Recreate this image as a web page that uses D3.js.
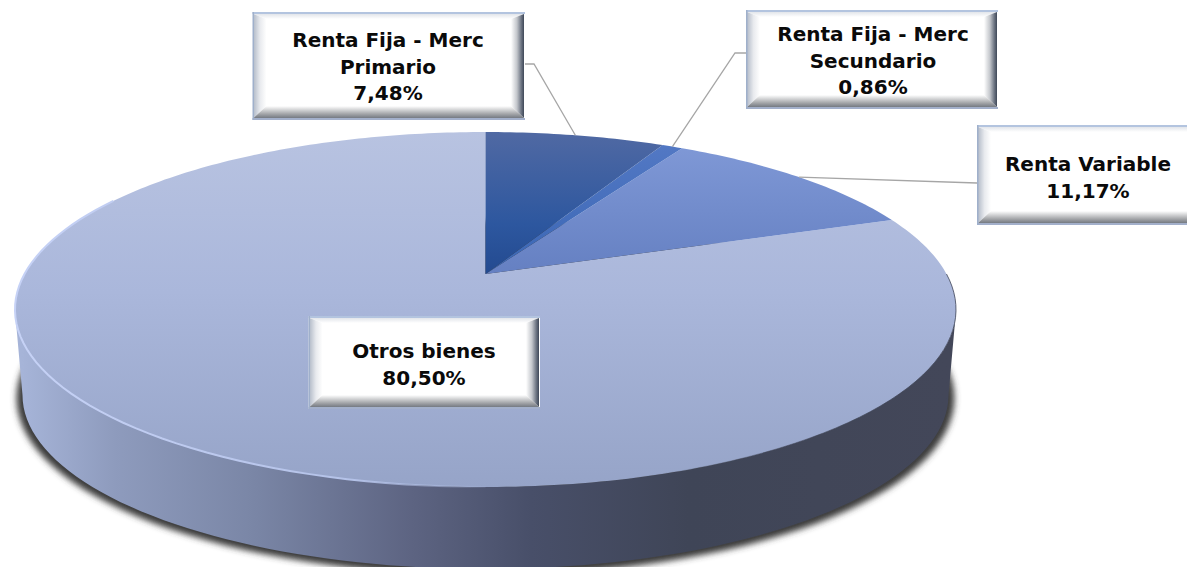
<!DOCTYPE html>
<html>
<head>
<meta charset="utf-8">
<script src="https://cdn.jsdelivr.net/npm/d3@7"></script>
<style>
  html, body { margin: 0; padding: 0; background: #fff; overflow: hidden; }
  svg { display: block; }
  .label { font-family: "DejaVu Sans", sans-serif; font-weight: 700; font-size: 20px; fill: #0a0a0a; text-anchor: middle; }
</style>
</head>
<body>
<div id="chart"></div>
<script>
// data
const categories = ["Renta Fija - Merc Primario", "Renta Fija - Merc Secundario", "Renta Variable", "Otros bienes"];
const values = [7.48, 0.86, 11.17, 80.50];
const labelLines = [
  ["Renta Fija - Merc", "Primario", "7,48%"],
  ["Renta Fija - Merc", "Secundario", "0,86%"],
  ["Renta Variable", "11,17%"],
  ["Otros bienes", "80,50%"]
];

const width = 1187, height = 567;

// label boxes: x, y, w, h  (third one runs off the right side)
const boxes = [
  {x: 252.5, y: 12, w: 272.5, h: 108, elbow: [534, 64], side: 525},
  {x: 746, y: 10, w: 252, h: 99, elbow: [735, 53], side: 746},
  {x: 977, y: 125, w: 225, h: 100, elbow: null, side: 977, sideY: 183},
  {x: 308.5, y: 316, w: 231.5, h: 93, elbow: null, side: null}
];

// tilted disc: unit circle seen in perspective
const cx = 485.5, apexY = 274;
const persp = 0.2, scaleX = 461, scaleY = -115.6;
function project(a) {
  const u = Math.sin(a), v = Math.cos(a), w = 1 + persp * v;
  return [cx + scaleX * u / w, (scaleY * v + apexY) / w];
}

const pie = d3.pie().sort(null).value(d => d)(values);
const line = d3.line();

function slicePoints(d) {
  const n = Math.max(4, Math.ceil((d.endAngle - d.startAngle) * 60));
  const pts = d3.range(n + 1).map(i => project(d.startAngle + (d.endAngle - d.startAngle) * i / n));
  return [[cx, apexY], ...pts];
}

const svg = d3.select("#chart").append("svg").attr("width", width).attr("height", height);
const defs = svg.append("defs");

function gradient(id, dir, stops, user) {
  const g = defs.append("linearGradient").attr("id", id)
    .attr("x1", dir[0]).attr("y1", dir[1]).attr("x2", dir[2]).attr("y2", dir[3]);
  if (user) g.attr("gradientUnits", "userSpaceOnUse");
  stops.forEach(s => g.append("stop").attr("offset", s[0]).attr("stop-color", s[1]).attr("stop-opacity", s[2] === undefined ? 1 : s[2]));
}

// slices share one vertical run so the colours line up with the disc
gradient("g0", [0, 132, 0, 274], [[0, "#5069a3"], [0.65, "#2d579f"], [1, "#234a90"]], true);
gradient("g1", [0, 146, 0, 274], [[0, "#5278c4"], [1, "#3a66b4"]], true);
gradient("g2", [0, 146, 0, 274], [[0, "#7f98d6"], [1, "#6580c2"]], true);
gradient("g3", [0, 132, 0, 487], [[0, "#b8c3e1"], [0.45, "#aab7db"], [1, "#96a4c8"]], true);
gradient("wall", [22, 0, 948, 0], [
  [0, "#a6b4d8"], [0.1, "#8e9bbd"], [0.25, "#7a86a6"], [0.42, "#5d6482"],
  [0.55, "#484f69"], [0.72, "#3f4557"], [1, "#434759"]
], true);
gradient("rimLight", [15, 0, 500, 0], [[0, "#c6d2f6"], [0.7, "#b4c2e8"], [1, "#b4c2e8", 0]], true);
gradient("rimDark", [620, 0, 956, 0], [[0, "#3d4356", 0], [0.5, "#3d4356", 0.5], [1, "#3d4356", 0.8]], true);

const blur = defs.append("filter").attr("id", "blur")
  .attr("x", "-5%").attr("y", "-5%").attr("width", "110%").attr("height", "110%");
blur.append("feGaussianBlur").attr("stdDeviation", 3.2);
const soft = defs.append("filter").attr("id", "soft");
soft.append("feGaussianBlur").attr("stdDeviation", 0.6);

// bevel fills for the boxes
gradient("bTop", [0, 0, 0, 1], [[0, "#e2e5ea"], [1, "#ffffff"]]);
gradient("bLeft", [0, 0, 1, 0], [[0, "#b4bcc9"], [0.5, "#e8eaee"], [1, "#ffffff"]]);
gradient("bRight", [1, 0, 0, 0], [[0, "#3f4858"], [0.2, "#6a7280"], [0.55, "#c4c7cc"], [1, "#ffffff"]]);
gradient("bBottom", [0, 1, 0, 0], [[0, "#757a82"], [0.35, "#a5a7aa"], [1, "#ffffff"]]);

// outline of the disc and of the lower rim
const circle = d3.range(0, 361, 2).map(a => project(a * Math.PI / 180));
const lowCy = 395, lowRx = 463, lowRy = 174;
const low = d3.range(0, 181, 2).map(a => {
  const t = a * Math.PI / 180;
  return [cx + lowRx * Math.cos(t), lowCy + lowRy * Math.sin(t)];
});

// shadow under the disc
svg.append("ellipse")
  .attr("cx", cx).attr("cy", lowCy + 3).attr("rx", lowRx + 6).attr("ry", lowRy + 3)
  .attr("fill", "#3a3a3a").attr("filter", "url(#blur)");

// wall: from the top disc's widest line down to the lower rim
const hull = circle.filter(p => p[1] >= 300).sort((a, b) => b[0] - a[0]);
svg.append("path")
  .attr("d", line([...hull, ...low.slice().reverse()]) + "Z")
  .attr("fill", "url(#wall)");

// pie slices, back to front
svg.selectAll("path.slice")
  .data(pie.slice().reverse())
  .enter().append("path")
  .attr("class", "slice")
  .attr("d", d => line(slicePoints(d)) + "Z")
  .attr("fill", d => "url(#g" + d.index + ")");

// rim highlights on the front edge
const frontLeft = d3.range(180, 300, 2).map(a => project(a * Math.PI / 180));
svg.append("path").attr("d", line(frontLeft)).attr("fill", "none")
  .attr("stroke", "url(#rimLight)").attr("stroke-width", 2).attr("filter", "url(#soft)");
const frontRight = d3.range(90, 181, 2).map(a => project(a * Math.PI / 180));
svg.append("path").attr("d", line(frontRight)).attr("fill", "none")
  .attr("stroke", "url(#rimDark)").attr("stroke-width", 1).attr("filter", "url(#soft)");

// leader lines start at the middle of each slice's outer arc
boxes.forEach((b, i) => {
  if (b.side === null) return;
  const mid = project((pie[i].startAngle + pie[i].endAngle) / 2);
  const pts = b.elbow ? [mid, b.elbow, [b.side, b.elbow[1]]] : [mid, [b.side, b.sideY]];
  svg.append("path").attr("d", line(pts)).attr("fill", "none")
    .attr("stroke", "#a6a6a6").attr("stroke-width", 1.3);
});

// label boxes
const bevel = 13;
const box = svg.selectAll("g.box").data(boxes).enter().append("g").attr("class", "box");
box.append("rect")
  .attr("x", d => d.x).attr("y", d => d.y).attr("width", d => d.w).attr("height", d => d.h)
  .attr("fill", "#fff");
function trap(d, side) {
  const x0 = d.x + 1, y0 = d.y + 2, x1 = d.x + d.w - 1, y1 = d.y + d.h - 2;
  const b = bevel;
  if (side === "top") return [[x0, y0], [x1, y0], [x1 - b, y0 + 5], [x0 + b, y0 + 5]];
  if (side === "bottom") return [[x0, y1], [x1, y1], [x1 - b, y1 - b + 1], [x0 + b, y1 - b + 1]];
  if (side === "left") return [[x0, y0], [x0 + b, y0 + 5], [x0 + b, y1 - b + 1], [x0, y1]];
  return [[x1, y0], [x1 - b, y0 + 5], [x1 - b, y1 - b + 1], [x1, y1]];
}
[["top", "bTop"], ["left", "bLeft"], ["right", "bRight"], ["bottom", "bBottom"]].forEach(s => {
  box.append("path").attr("d", d => line(trap(d, s[0])) + "Z").attr("fill", "url(#" + s[1] + ")");
});
// thin blue-grey frame on top and bottom
box.append("rect").attr("x", d => d.x).attr("y", d => d.y).attr("width", d => d.w).attr("height", 2).attr("fill", "#b3c4df");
box.append("rect").attr("x", d => d.x).attr("y", d => d.y + d.h - 2).attr("width", d => d.w).attr("height", 2).attr("fill", "#a3b0cb");
box.append("rect").attr("x", d => d.x).attr("y", d => d.y).attr("width", 1.5).attr("height", d => d.h).attr("fill", "#9fb0cb");

// label text
const textCentre = [388, 873, 1088, 424];
const firstBase = [47, 41, 171, 358];
box.each(function(d, i) {
  const g = d3.select(this);
  labelLines[i].forEach((t, j) => {
    g.append("text").attr("class", "label")
      .attr("x", textCentre[i]).attr("y", firstBase[i] + j * 26.5).text(t);
  });
});
</script>
</body>
</html>
